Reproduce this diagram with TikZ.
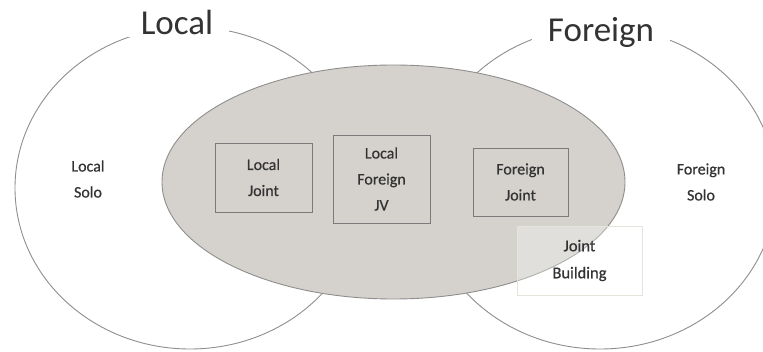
\documentclass[tikz,border=0pt]{standalone}
\usepackage{fontspec}
\setmainfont{Carlito}
\newfontfamily\semibold[FakeBold=0.6]{Carlito}
\definecolor{ringc}{HTML}{8E8E8E}
\definecolor{grayfill}{HTML}{D5D2CD}
\definecolor{boxline}{HTML}{7A7A7A}
\definecolor{txt}{HTML}{333333}
\definecolor{faintline}{HTML}{E4E3DC}
\begin{document}
\begin{tikzpicture}[x=1pt,y=-1pt,
  ring/.style={draw=ringc,line width=0.9pt},
  title/.style={fill=white,inner xsep=16pt,inner ysep=2pt,text=txt,font=\fontsize{35}{40}\selectfont},
  lbl/.style={align=center,text=txt,font=\semibold\fontsize{16}{26}\selectfont},
  inbox/.style={draw=boxline,line width=0.8pt,fill=grayfill,align=center,text=txt,inner sep=0pt,font=\semibold\fontsize{16}{26}\selectfont},
  jbbox/.style={draw=faintline,line width=0.8pt,fill=white,fill opacity=0.3,text opacity=1,align=center,text=txt,inner sep=0pt,font=\semibold\fontsize{16.5}{27}\selectfont}]
\useasboundingbox (0,0) rectangle (763,352);
\fill[white] (0,0) rectangle (763,352);
\begin{scope}
\clip (0,0) rectangle (763,352);
\draw[ring,fill=white] (190,188) ellipse [x radius=175, y radius=161];
\draw[ring,fill=white] (600,188) ellipse [x radius=176, y radius=161];
\draw[draw=ringc,line width=0.9pt,fill=grayfill] (393.5,182) ellipse [x radius=231.5, y radius=117];
\end{scope}
\node[title,anchor=base] (tlocal) at (177,35) {Local};
\node[title,anchor=base] (tforeign) at (601,42) {Foreign};
\node[lbl] (lsolo) at (88,179) {Local\\Solo};
\node[lbl] (fsolo) at (701,182) {Foreign\\Solo};
\node[inbox,minimum width=97pt,minimum height=69pt] (lj) at (263.5,177.5) {Local\\Joint};
\node[inbox,minimum width=97pt,minimum height=88pt] (lfjv) at (381.5,179) {Local\\Foreign\\JV};
\node[inbox,minimum width=95pt,minimum height=68pt] (fj) at (520.5,182) {Foreign\\Joint};
\node[jbbox,minimum width=125pt,minimum height=69pt] (jb) at (579.5,260.5) {Joint\\Building};
\end{tikzpicture}
\end{document}
